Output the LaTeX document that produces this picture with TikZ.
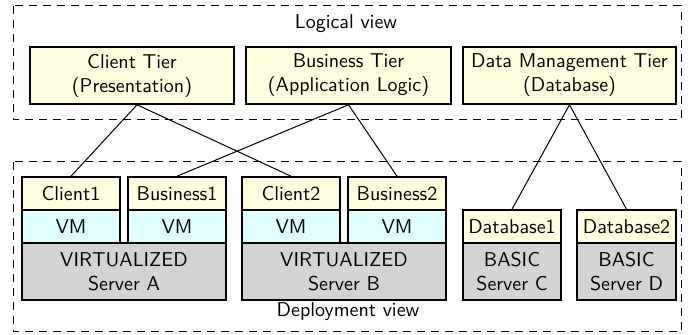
\documentclass[tikz,border=0pt]{standalone}
\definecolor{tieryellow}{RGB}{255,255,224}
\definecolor{vmcyan}{RGB}{224,255,255}
\definecolor{servergray}{RGB}{211,211,211}
\begin{document}
\begin{tikzpicture}[x=0.5pt,y=-0.5pt,font=\sffamily,
  box/.style={draw=black,line width=0.8pt,inner sep=0pt,align=center},
  tier/.style={box,fill=tieryellow,minimum height=28.5pt},
  app/.style={box,fill=tieryellow,minimum width=49pt,minimum height=16.5pt},
  vm/.style={box,fill=vmcyan,minimum width=49pt,minimum height=16.5pt},
  server/.style={box,fill=servergray,minimum height=28.5pt},
  view/.style={draw=black,line width=0.5pt,dash pattern=on 4pt off 3pt},
  link/.style={draw=black,line width=0.5pt}]
\useasboundingbox[fill=white] (0,0) rectangle (689,335);

% dashed view frames
\draw[view] (13,6) rectangle (681,120);
\draw[view] (13,162) rectangle (681,332);
\node[anchor=base] (lv) at (346,29) {Logical view};
\node[anchor=base] (dv) at (348,317) {Deployment view};

% logical tiers
\node[tier,minimum width=102pt] (client) at (132,75.5) {Client Tier\\(Presentation)};
\node[tier,minimum width=102.5pt] (business) at (348.5,75.5) {Business Tier\\(Application Logic)};
\node[tier,minimum width=106.5pt] (data) at (569.5,75.5) {Data Management Tier\\(Database)};

% deployment
\node[app] (c1) at (71,193.5) {Client1};
\node[app] (b1) at (177,193.5) {Business1};
\node[app] (c2) at (291,193.5) {Client2};
\node[app] (b2) at (397,193.5) {Business2};
\node[vm] (vm1) at (71,226.5) {VM};
\node[vm] (vm2) at (177,226.5) {VM};
\node[vm] (vm3) at (291,226.5) {VM};
\node[vm] (vm4) at (397,226.5) {VM};
\node[server,minimum width=102pt] (sa) at (124,271.5) {VIRTUALIZED\\Server A};
\node[server,minimum width=102pt] (sb) at (344,271.5) {VIRTUALIZED\\Server B};
\node[app] (d1) at (512,226.5) {Database1};
\node[app,minimum width=49.5pt] (d2) at (626.5,226.5) {Database2};
\node[server,minimum width=49pt] (sc) at (512,271.5) {BASIC\\Server C};
\node[server,minimum width=49.5pt] (sd) at (626.5,271.5) {BASIC\\Server D};

% connectors
\coordinate (cs) at ([xshift=2.5pt]client.south);
\draw[link] (cs) -- (c1.north);
\draw[link] (cs) -- (c2.north);
\draw[link] (business.south) -- (b1.north);
\draw[link] (business.south) -- (b2.north);
\draw[link] (data.south) -- (d1.north);
\draw[link] (data.south) -- (d2.north);
\end{tikzpicture}
\end{document}
